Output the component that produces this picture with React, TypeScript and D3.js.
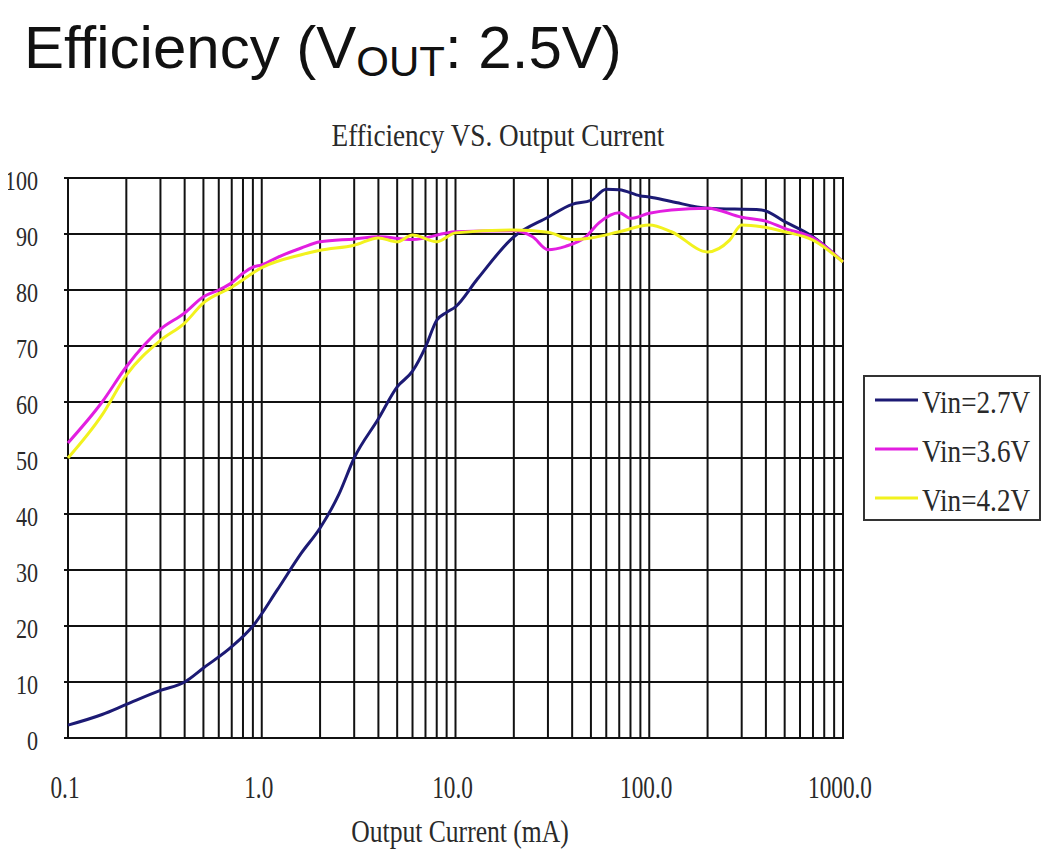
import React from "react";
import * as d3 from "d3";

const W = 1053;
const H = 857;

const xTickValues = [0.1, 1, 10, 100, 1000];
const xTickLabels = ["0.1", "1.0", "10.0", "100.0", "1000.0"];
const yTickValues = [0, 10, 20, 30, 40, 50, 60, 70, 80, 90, 100];

const seriesNames = ["Vin=2.7V", "Vin=3.6V", "Vin=4.2V"];
const seriesColors = ["#1c1a74", "#e21ee0", "#f2f21e"];

const currentA = [0.1, 0.15, 0.2, 0.3, 0.4, 0.5, 0.7, 0.9, 1.2, 1.6, 2, 2.5, 3, 4, 5, 6, 7, 8, 9, 10, 13, 20, 30, 40, 50, 60, 70, 90, 100, 130, 200, 380, 500, 700, 1000];
const effA = [2.3, 4.2, 6, 8.5, 10, 12.5, 16.3, 20, 26.4, 33, 37.5, 43.5, 50, 57, 62.7, 65.5, 69.8, 74.6, 76, 77, 82, 89.5, 93, 95.3, 96, 98, 97.9, 96.8, 96.6, 95.8, 94.6, 94.3, 92.2, 89.5, 85];

const currentB = [0.1, 0.15, 0.2, 0.3, 0.4, 0.5, 0.6, 0.7, 0.8, 0.9, 1, 1.2, 1.6, 2, 3, 4, 6, 10, 20, 25, 30, 37, 47, 55, 70, 80, 100, 130, 200, 300, 400, 500, 700, 1000];
const effB = [52.7, 60, 66.3, 73, 75.9, 78.8, 80, 81.3, 83, 84.1, 84.5, 85.8, 87.5, 88.6, 89.1, 89.5, 89, 90.4, 90.6, 89.5, 87.2, 87.8, 89.5, 92, 93.8, 92.8, 93.7, 94.3, 94.6, 93, 92.3, 91, 89.3, 85];

const currentC = [0.1, 0.15, 0.2, 0.3, 0.4, 0.5, 0.7, 1, 1.6, 2, 3, 4, 5, 6, 8, 10, 20, 30, 40, 50, 70, 100, 130, 200, 260, 300, 380, 500, 700, 1000];
const effC = [50, 57.7, 64.8, 71, 74.1, 77.7, 80.5, 84, 86.3, 87.1, 88, 89.3, 88.6, 89.8, 88.6, 90.2, 90.7, 90.3, 89, 89.3, 90.4, 91.6, 90.4, 86.8, 88.9, 91.6, 91.3, 90.4, 88.9, 85];

const seriesX = [currentA, currentB, currentC];
const seriesY = [effA, effB, effC];

const SERIF = "'Liberation Serif', 'DejaVu Serif', serif";
const SANS = "'Liberation Sans', Arial, sans-serif";

function CText(props: { x: number; y: number; size: number; sx?: number; anchor?: string; children: React.ReactNode; fill?: string }) {
  const { x, y, size, sx = 0.75, anchor = "middle", children, fill = "#2a2a2a" } = props;
  return (
    <text
      transform={`translate(${x},${y}) scale(${sx},1)`}
      fontFamily={SERIF}
      fontSize={size}
      textAnchor={anchor as any}
      fill={fill}
    >
      {children}
    </text>
  );
}

export default function App() {
  const x = d3.scaleLog().domain([0.1, 1000]).range([68, 843]);
  const y = d3.scaleLinear().domain([0, 100]).range([738, 178]);

  const minor: number[] = [];
  for (let k = -1; k <= 2; k++) {
    for (let m = 1; m <= 9; m++) {
      minor.push(m * Math.pow(10, k));
    }
  }
  minor.push(1000);

  const line = d3
    .line<[number, number]>()
    .x((d) => x(d[0]))
    .y((d) => y(d[1]))
    .curve(d3.curveMonotoneX);

  const [x0, x1] = x.range();
  const [y0, y1] = y.range();

  return (
    <div style={{ margin: "-8px" }}>
      <svg width={W} height={H} style={{ display: "block", background: "#fff" }}>
        <text x={24} y={68} fontFamily={SANS} fontSize={60} fill="#111">
          Efficiency (V
          <tspan fontSize={42} dy={8}>OUT</tspan>
          <tspan dy={-8}>: 2.5V)</tspan>
        </text>

        <CText x={498} y={146} size={32} sx={0.85}>
          Efficiency VS. Output Current
        </CText>

        {/* grid */}
        <g stroke="#111" strokeWidth={2}>
          {minor.map((v, i) => (
            <line key={"v" + i} x1={x(v)} x2={x(v)} y1={y1} y2={y0} />
          ))}
          {yTickValues.map((v, i) => (
            <line key={"h" + i} x1={x0 - 4} x2={x1} y1={y(v)} y2={y(v)} />
          ))}
          <rect x={x0} y={y1} width={x1 - x0} height={y0 - y1} fill="none" />
        </g>

        {/* series */}
        {seriesX.map((xs, si) => {
          const pts: [number, number][] = xs.map((c, i) => [c, seriesY[si][i]]);
          return (
            <path
              key={si}
              d={line(pts) || ""}
              fill="none"
              stroke={seriesColors[si]}
              strokeWidth={3}
              strokeLinejoin="round"
            />
          );
        })}

        {/* y labels */}
        {yTickValues.map((v, i) => (
          <CText key={"yl" + i} x={38} y={y(v) + 12} size={28} sx={0.79} anchor="end">
            {String(v)}
          </CText>
        ))}

        {/* x labels */}
        {xTickValues.map((v, i) => (
          <CText key={"xl" + i} x={x(v) - 3} y={798} size={31} sx={0.75}>
            {xTickLabels[i]}
          </CText>
        ))}

        <CText x={460} y={842} size={32} sx={0.8}>
          Output Current (mA)
        </CText>

        {/* legend */}
        <rect x={864} y={376} width={176} height={144} fill="#fff" stroke="#333" strokeWidth={2} />
        {seriesNames.map((n, i) => (
          <g key={"lg" + i}>
            <line x1={875} x2={918} y1={400 + i * 49} y2={400 + i * 49} stroke={seriesColors[i]} strokeWidth={3} />
            <CText x={922} y={413 + i * 49} size={32} sx={0.85} anchor="start">
              {n}
            </CText>
          </g>
        ))}
      </svg>
    </div>
  );
}
